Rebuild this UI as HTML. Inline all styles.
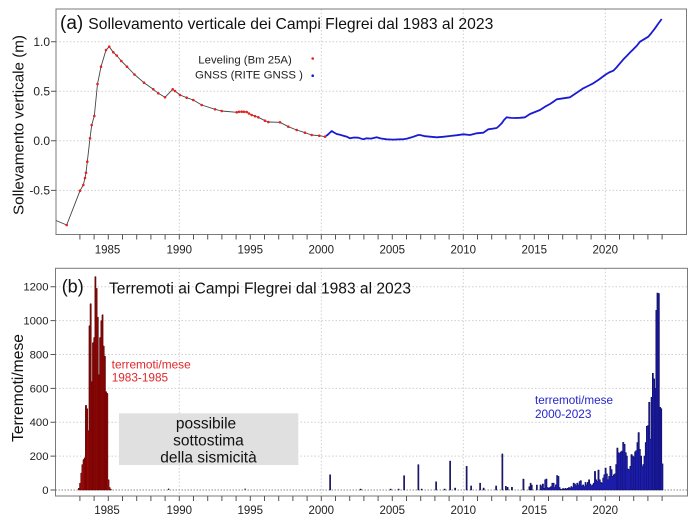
<!DOCTYPE html>
<html><head><meta charset="utf-8"><style>
html,body{margin:0;padding:0;background:#fff;}
svg{display:block;font-family:"Liberation Sans",Arial,sans-serif;}
</style></head><body>
<svg width="700" height="524" viewBox="0 0 700 524" xmlns="http://www.w3.org/2000/svg">
<rect x="0" y="0" width="700" height="524" fill="#fff"/>

<!-- ===== TOP PANEL ===== -->
<g stroke="#cfcfcf" stroke-width="1" stroke-dasharray="1.5,2" fill="none">
<path d="M56,41.7H686.5M56,91.2H686.5M56,140.8H686.5M56,190.4H686.5"/>
<path d="M179.3,9V234.5M321.3,9V234.5M463.3,9V234.5M605.3,9V234.5"/>
</g>
<rect x="56" y="9" width="630.5" height="225.5" fill="none" stroke="#7a7a7a" stroke-width="1"/>

<!-- x ticks top -->
<path stroke="#555" stroke-width="1" fill="none" d="M79.9,234.5v5M94.1,234.5v5M108.3,234.5v5M122.5,234.5v5M136.7,234.5v5M150.9,234.5v5M165.1,234.5v5M179.3,234.5v5M193.5,234.5v5M207.7,234.5v5M221.9,234.5v5M236.1,234.5v5M250.3,234.5v5M264.5,234.5v5M278.7,234.5v5M292.9,234.5v5M307.1,234.5v5M321.3,234.5v5M335.5,234.5v5M349.7,234.5v5M363.9,234.5v5M378.1,234.5v5M392.3,234.5v5M406.5,234.5v5M420.7,234.5v5M434.9,234.5v5M449.1,234.5v5M463.3,234.5v5M477.5,234.5v5M491.7,234.5v5M505.9,234.5v5M520.1,234.5v5M534.3,234.5v5M548.5,234.5v5M562.7,234.5v5M576.9,234.5v5M591.1,234.5v5M605.3,234.5v5M619.5,234.5v5M633.7,234.5v5M647.9,234.5v5M662.1,234.5v5"/>
<g font-size="11.5" fill="#222" text-anchor="middle">
<text x="107.5" y="253.5">1985</text><text x="179.3" y="253.5">1990</text><text x="250.3" y="253.5">1995</text><text x="321.3" y="253.5">2000</text><text x="392.3" y="253.5">2005</text><text x="463.3" y="253.5">2010</text><text x="534.3" y="253.5">2015</text><text x="605.3" y="253.5">2020</text>
</g>
<!-- y ticks top -->
<path stroke="#555" stroke-width="1" d="M51,41.7H56M51,91.2H56M51,140.8H56M51,190.4H56"/>
<g font-size="12" fill="#222" text-anchor="end">
<text x="50" y="46">1.0</text><text x="50" y="95.5">0.5</text><text x="50" y="145.1">0.0</text><text x="50" y="194.7">-0.5</text>
</g>
<text transform="translate(23.3,125) rotate(-90)" font-size="15.2" fill="#111" text-anchor="middle" textLength="180" lengthAdjust="spacingAndGlyphs">Sollevamento verticale (m)</text>

<!-- title top -->
<text x="60" y="28.8" font-size="19" fill="#111">(a)</text>
<text x="88.3" y="29" font-size="15.7" fill="#111" textLength="405" lengthAdjust="spacingAndGlyphs">Sollevamento verticale dei Campi Flegrei dal 1983 al 2023</text>

<!-- legend -->
<text x="198.3" y="63.3" font-size="11.4" fill="#222" textLength="93.5" lengthAdjust="spacingAndGlyphs">Leveling (Bm 25A)</text>
<text x="195" y="78.5" font-size="11.4" fill="#222" textLength="108" lengthAdjust="spacingAndGlyphs">GNSS (RITE GNSS )</text>
<circle cx="312.7" cy="58.5" r="1.3" fill="#e52222"/>
<circle cx="312.7" cy="75.7" r="1.3" fill="#1a1ad4"/>

<!-- leveling line -->
<polyline fill="none" stroke="#444" stroke-width="0.9" stroke-linejoin="round" points="56,220.5 66.7,225 80,190.7 83.3,185 85,178 86,172.7 87.3,161.7 90,138.3 91.7,125 94.3,116 97.5,84 101,66.7 106,50 109.2,46.7 113.3,52.3 116.7,55.5 121.3,61 127,66.7 134.5,74.5 144,82.7 153.3,89.3 158.3,93.3 165,97.3 172.7,89.3 175,91 180,95 186.7,97.7 193.3,100 201.7,105 215,109.3 221.7,111 236.7,112.3 241.7,111.7 246.7,112 251.7,115 258.3,117.3 265,120.7 268.3,122 280,122.3 288.3,126.7 296.7,130 305,132.7 311.7,135 319.3,135.7 325,136.7"/>
<g fill="#e52222">
<circle cx="66.7" cy="225" r="1.3"/><circle cx="80" cy="190.7" r="1.3"/><circle cx="83.3" cy="185" r="1.3"/><circle cx="85" cy="178" r="1.3"/><circle cx="86" cy="172.7" r="1.3"/><circle cx="87.3" cy="161.7" r="1.3"/><circle cx="90" cy="138.3" r="1.3"/><circle cx="91.7" cy="125" r="1.3"/><circle cx="94.3" cy="116" r="1.3"/><circle cx="97.5" cy="84" r="1.3"/><circle cx="101" cy="66.7" r="1.3"/><circle cx="106" cy="50" r="1.3"/><circle cx="109.2" cy="46.7" r="1.3"/><circle cx="113.3" cy="52.3" r="1.3"/><circle cx="116.7" cy="55.5" r="1.3"/><circle cx="121.3" cy="61" r="1.3"/><circle cx="127" cy="66.7" r="1.3"/><circle cx="134.5" cy="74.5" r="1.3"/><circle cx="144" cy="82.7" r="1.3"/><circle cx="153.3" cy="89.3" r="1.3"/><circle cx="158.3" cy="93.3" r="1.3"/><circle cx="165" cy="97.3" r="1.3"/><circle cx="172.7" cy="89.3" r="1.3"/><circle cx="175" cy="91" r="1.3"/><circle cx="180" cy="95" r="1.3"/><circle cx="186.7" cy="97.7" r="1.3"/><circle cx="193.3" cy="100" r="1.3"/><circle cx="201.7" cy="105" r="1.3"/><circle cx="215" cy="109.3" r="1.3"/><circle cx="221.7" cy="111" r="1.3"/><circle cx="236.7" cy="112.3" r="1.3"/><circle cx="239" cy="111.8" r="1.3"/><circle cx="241.7" cy="111.7" r="1.3"/><circle cx="244" cy="111.8" r="1.3"/><circle cx="246.7" cy="112" r="1.3"/><circle cx="249" cy="113.5" r="1.3"/><circle cx="251.7" cy="115" r="1.3"/><circle cx="255" cy="116.2" r="1.3"/><circle cx="258.3" cy="117.3" r="1.3"/><circle cx="265" cy="120.7" r="1.3"/><circle cx="268.3" cy="122" r="1.3"/><circle cx="280" cy="122.3" r="1.3"/><circle cx="288.3" cy="126.7" r="1.3"/><circle cx="296.7" cy="130" r="1.3"/><circle cx="305" cy="132.7" r="1.3"/><circle cx="311.7" cy="135" r="1.3"/><circle cx="319.3" cy="135.7" r="1.3"/><circle cx="325" cy="136.7" r="1.3"/>
</g>
<!-- GNSS line -->
<polyline fill="none" stroke="#1a1ad4" stroke-width="1.8" stroke-linejoin="round" points="326,136 328,134.5 331.7,131 334,132.5 336.7,134 340,134.8 343.3,135.7 347,136.8 350,138.3 354,137.5 358.3,137.7 363.3,139.3 366.7,138.3 371,138.6 376.7,137.3 381,138.5 386.7,139.3 393,139.6 400,139.3 403.3,139.3 407,138.6 411.7,137.3 418.3,135 420,135 425,136.2 430,136.7 436.7,137.3 443,136.8 450,136 457,135.2 463.3,134.3 470,135 476.7,133.3 483.3,132.7 488.3,129.3 493,128.6 496.7,128 499,126 501.7,123.3 504,120 506.7,117.3 511,117.9 515,118 520,117.8 525,117.3 530,114 535,112 540,110 545,106.7 550,104 553,102 556.7,99.3 563.3,98.3 570,97.3 576.7,92.7 583.3,88.3 588,86 593.3,83.3 599,79.5 605,75 609,72.5 613.3,70.7 616,68 620,63.3 623,59.8 626.7,56 630,52.5 633.3,49.3 637,45.5 640,41.7 644,39.3 648.3,36.7 651,33.5 655,28.3 658,24 661.7,19"/>

<!-- ===== BOTTOM PANEL ===== -->
<g stroke="#cfcfcf" stroke-width="1" stroke-dasharray="1.5,2" fill="none">
<path d="M55.5,456.1H687.5M55.5,422.2H687.5M55.5,388.4H687.5M55.5,354.5H687.5M55.5,320.6H687.5M55.5,286.7H687.5"/>
<path d="M179.3,268.3V496M321.3,268.3V496M463.3,268.3V496M605.3,268.3V496"/>
</g>
<path d="M55.5,490H687.5" stroke="#8a8a8a" stroke-width="1.1" stroke-dasharray="1.5,1.5" fill="none"/>

<!-- gray box -->
<rect x="119" y="413.3" width="179.3" height="51.7" fill="#e0e0e0"/>
<g font-size="15.5" fill="#111" text-anchor="middle">
<text x="206" y="428.3">possibile</text>
<text x="208.5" y="445.5">sottostima</text>
<text x="208.5" y="462.3">della sismicità</text>
</g>

<!-- red bars -->
<path fill="#960808" stroke="#4a0000" stroke-width="0.5" d="M78.3,490V488.3H79.5V483.2H80.7V473.1H81.8V464.6H83.0V459.5H84.2V457.8H85.4V405.3H86.6V408.7H87.8V430.7H89.0V325.7H90.1V303.7H91.3V381.6H92.5V342.6H93.7V337.5H94.9V276.6H96.0V288.4H97.2V317.2H98.4V374.8H99.6V337.5H100.8V320.6H102.0V314.7H103.1V346.0H104.3V356.2H105.5V391.7H106.7V393.4H107.9V479.8H109.1V487.5H110.2V489.2H111.4V490Z"/>
<g stroke="#5a0000" stroke-width="0.4">
<path d="M84.2,490V458M85.4,490V406M86.6,490V409M89,490V326M90.1,490V304M91.3,490V382M92.5,490V343M93.7,490V338M94.9,490V277M96,490V289M97.2,490V318M98.4,490V375M99.6,490V338M100.8,490V321M102,490V315M103.1,490V346M104.3,490V356M105.5,490V392M106.7,490V394"/>
</g>

<!-- tiny bars 1985-2000 -->
<g fill="#222">
<rect x="168" y="488.6" width="1.2" height="1.4"/><rect x="244.5" y="488.6" width="1.2" height="1.4"/>
</g>

<!-- isolated blue spikes -->
<g fill="#1a1a78" stroke="#0c0c45" stroke-width="0.4">
<rect x="329.5" y="474.8" width="1.3" height="15.2"/>
<rect x="403.5" y="475.6" width="1.3" height="14.4"/>
<rect x="417.7" y="464.6" width="1.3" height="25.4"/>
<rect x="435.5" y="481.7" width="1.3" height="8.3"/>
<rect x="449.5" y="461" width="1.3" height="29"/>
<rect x="454.5" y="488" width="1.3" height="2"/>
<rect x="466" y="466.3" width="1.3" height="23.7"/>
<rect x="470.5" y="485.9" width="1.3" height="4.1"/>
<rect x="479.5" y="483.1" width="1.3" height="6.9"/>
<rect x="483" y="488" width="1.3" height="2"/>
<rect x="495.5" y="485.9" width="1.3" height="4.1"/>
<rect x="501.7" y="453.9" width="1.3" height="36.1"/>
<rect x="505.2" y="486.3" width="1.3" height="3.7"/>
<rect x="507" y="487.3" width="1.3" height="2.7"/>
<rect x="511.3" y="487.3" width="1.3" height="2.7"/>
<rect x="522.8" y="479" width="1.3" height="11"/>
<rect x="528.8" y="486.6" width="1.2" height="3.4"/>
<rect x="530" y="483.1" width="1.2" height="6.9"/>
<rect x="531.2" y="485" width="1.2" height="5"/>
<rect x="536.2" y="485" width="1.3" height="5"/>
<rect x="360" y="489" width="1.2" height="1"/><rect x="390" y="489" width="1.2" height="1"/><rect x="398" y="489" width="1.2" height="1"/><rect x="421" y="489" width="1.2" height="1"/><rect x="444" y="489" width="1.2" height="1"/>
</g>
<!-- dense blue bars -->
<path fill="#1c1caa" stroke="#0c0c55" stroke-width="0.6" d="M540,490V484.9H541.2V486.6H542.3V484.1H543.5V488.3H544.7V479.8H545.9V479.0H547V487.5H548.3V488.3H549.4V487.5H550.6V486.6H551.8V483.2H553V483.2H554.2V487.5H555.4V484.9H556.6V475.6H557.8V476.4H559V487.5H560.1V489.2H561.3V489.5H562.5V488.6H563.7V489.2H564.9V488.3H566V489.2H567.2V488.3H568.4V487.5H569.6V488H570.8V486.6H571.9V487.5H573.1V483.2H574.3V484.1H575.5V485.8H576.7V483.2H577.9V484.9H579.1V481.5H580.2V480.7H581.4V485.8H582.6V484.9H583.8V486.6H585V482.4H586.1V484.9H587.3V482.4H588.5V479.8H589.7V484.1H590.9V485.8H592.1V484.9H593.2V483.2H594.4V471.4H595.6V479.8H596.8V481.5H597.9V470.0H599.1V479.8H600.3V482.4H601.5V483.2H602.7V478.1H603.8V474.8H605V468.0H606.2V473.9H607.4V479.8H608.6V476.4H609.8V466.3H610.9V469.7H612.1V476.4H613.3V474.8H614.5V473.9H615.7V464.6H616.8V448.0H618V452.7H619.2V453.6H620.4V451.9H621.6V451.0H622.7V442.4H623.9V444.3H625.1V452.7H626.3V456.1H627.4V469.0H628.6V469.7H629.8V466.3H631V454.6H632.2V456.1H633.4V457.0H634.6V451.9H635.7V450.7H636.9V442.6H638.1V432.6H639.3V449.3H640.4V456.1H641.7V466.6H642.8V464.6H644V456.1H645.2V442.6H646.4V426.3H647.6V425.6H648.7V402.3H649.9V439.2H651.1V397.3H652.3V373.3H653.4V378.9H654.7V388.4H655.8V310.4H657V293.0H658.2V293.5H659.4V407.3H660.6V408.7H661.8V463.9H663V490Z"/>
<g stroke="#0c0c55" stroke-width="0.4">
<path d="M616.8,490V448M618,490V453M620.4,490V452M622.7,490V442M625.1,490V453M631,490V455M633.4,490V457M635.7,490V451M638.1,490V433M640.4,490V456M644,490V456M646.4,490V426M648.7,490V402M651.1,490V397M652.3,490V373M654.7,490V388M655.8,490V310M657,490V293M658.2,490V294M659.4,490V407M660.6,490V409"/>
</g>

<rect x="55.5" y="268.3" width="632" height="227.7" fill="none" stroke="#7a7a7a" stroke-width="1"/>

<!-- x ticks bottom -->
<path stroke="#555" stroke-width="1" fill="none" d="M79.9,496v5M94.1,496v5M108.3,496v5M122.5,496v5M136.7,496v5M150.9,496v5M165.1,496v5M179.3,496v5M193.5,496v5M207.7,496v5M221.9,496v5M236.1,496v5M250.3,496v5M264.5,496v5M278.7,496v5M292.9,496v5M307.1,496v5M321.3,496v5M335.5,496v5M349.7,496v5M363.9,496v5M378.1,496v5M392.3,496v5M406.5,496v5M420.7,496v5M434.9,496v5M449.1,496v5M463.3,496v5M477.5,496v5M491.7,496v5M505.9,496v5M520.1,496v5M534.3,496v5M548.5,496v5M562.7,496v5M576.9,496v5M591.1,496v5M605.3,496v5M619.5,496v5M633.7,496v5M647.9,496v5M662.1,496v5"/>
<g font-size="11.5" fill="#222" text-anchor="middle">
<text x="107" y="514">1985</text><text x="179.3" y="514">1990</text><text x="250.3" y="514">1995</text><text x="321.3" y="514">2000</text><text x="392.3" y="514">2005</text><text x="463.3" y="514">2010</text><text x="534.3" y="514">2015</text><text x="605.3" y="514">2020</text>
</g>
<!-- y ticks bottom -->
<path stroke="#555" stroke-width="1" d="M50.5,490H55.5M50.5,456.1H55.5M50.5,422.2H55.5M50.5,388.4H55.5M50.5,354.5H55.5M50.5,320.6H55.5M50.5,286.7H55.5"/>
<g font-size="11.3" fill="#222" text-anchor="end">
<text x="48.5" y="494">0</text><text x="48.5" y="460.1">200</text><text x="48.5" y="426.2">400</text><text x="48.5" y="392.4">600</text><text x="48.5" y="358.5">800</text><text x="48.5" y="324.6">1000</text><text x="48.5" y="290.7">1200</text>
</g>
<text transform="translate(23,388) rotate(-90)" font-size="15.3" fill="#111" text-anchor="middle" textLength="108" lengthAdjust="spacingAndGlyphs">Terremoti/mese</text>

<!-- title bottom -->
<text x="61.7" y="292.5" font-size="18" fill="#111">(b)</text>
<text x="109" y="293.5" font-size="15.5" fill="#111" textLength="302" lengthAdjust="spacingAndGlyphs">Terremoti ai Campi Flegrei dal 1983 al 2023</text>

<!-- annotations -->
<g font-size="11.8" fill="#e0262b">
<text x="111.7" y="368.3" textLength="79" lengthAdjust="spacingAndGlyphs">terremoti/mese</text>
<text x="111.7" y="381.7">1983-1985</text>
</g>
<g font-size="11.8" fill="#2626cc">
<text x="535" y="404" textLength="78" lengthAdjust="spacingAndGlyphs">terremoti/mese</text>
<text x="535" y="418">2000-2023</text>
</g>
</svg>
</body></html>
